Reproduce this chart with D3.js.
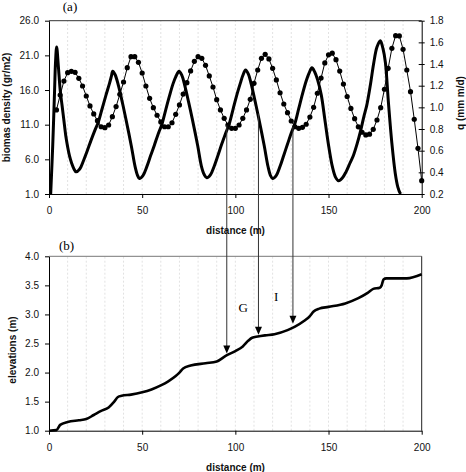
<!DOCTYPE html>
<html>
<head>
<meta charset="utf-8">
<script src="https://cdn.jsdelivr.net/npm/d3@7"></script>
<style>
  body { margin: 0; background: #fff; }
  svg { display: block; font-family: "Liberation Sans", Arial, sans-serif; }
</style>
</head>
<body>
<script>
// biomass density along the slope (solid line, left axis of panel a)
var bioDist = [0.9,2,3,3.5,4.1,5,6,7,8,9,10,11,12.2,13.4,14.5,
  16.5,18.5,20.5,22.5,24.5,26.5,28.5,30.5,32.5,33.5,34.2,
  35.5,37.2,39.2,41.2,44.2,46.2,47.5,48.5,
  50.5,52.5,54.5,56.5,58.5,60.5,62.5,64.5,66.5,68,69.8,
  71.3,72.8,74.8,76.8,79.8,81.8,83.3,84.7,
  86.7,88.7,90.7,92.7,94.7,96.7,98.7,100.7,102.7,104,105.5,
  107,108.5,110.5,112.5,115.5,117.5,118.8,120,
  122,124,126,128,130,132,134,136,138,139.5,141.1,
  142.6,144.1,146.1,148.1,150.1,152.1,153.8,155.4,
  157.4,159.4,161.4,163.4,165.4,167,169,170.6,172.5,174.2,176,177.8,
  179.2,180.5,182.2,184,185.8,187.2,188.5,189];
var bioVal = [1.0,8,16,20,22.2,19.5,16,13.8,11.6,9.4,7.8,6.5,5.4,4.6,4.2,
  4.6,5.8,7.2,8.7,10.1,11.4,13.3,15.2,17.0,18.0,18.7,
  18.2,16.7,14.4,11.9,7.9,4.95,3.7,3.25,
  3.7,4.95,6.5,8.0,9.6,11.0,13.0,15.0,16.85,17.9,18.7,
  18.1,16.7,14.4,11.95,7.95,5.0,3.8,3.35,
  3.8,5.05,6.6,8.2,9.7,11.1,13.15,15.2,17.0,18.1,18.9,
  18.3,16.9,14.5,12.0,7.95,5.0,3.7,3.25,
  3.7,5.0,6.6,8.2,9.8,11.2,13.3,15.4,17.3,18.4,19.2,
  18.6,17.5,15.3,11.6,7.9,4.9,3.4,2.9,
  3.3,4.2,5.4,6.6,8.3,9.9,12.2,13.9,16.8,19.8,22.2,23.1,
  22.0,20.0,14.0,8.3,4.0,2.0,1.1,1.0];

// infiltration q (dotted line with markers, right axis of panel a)
var qDist = [4,6,8,10,12,14,16,18,20,22,24,26,28,30,32,34,36,38,40,42,44,46,48,50,
  52,54,56,58,60,62,64,66,68,70,72,74,76,78,80,82,84,86,88,90,92,94,96,98,100,
  102,104,106,108,110,112,114,116,118,120,122,124,126,128,130,132,134,136,138,140,
  142,144,146,148,150,152,154,156,158,160,162,164,166,168,170,172,174,176,178,180,
  182,184,186,188,190,192,194,196,198,200];
var qVal = [0.976,1.114,1.243,1.320,1.333,1.323,1.268,1.197,1.105,1.013,0.939,0.877,0.821,0.812,0.837,0.914,1.007,1.120,1.234,1.366,1.468,1.468,1.416,1.317,
  1.197,1.083,0.997,0.927,0.865,0.821,0.821,0.858,0.936,1.022,1.123,1.228,1.336,1.425,1.468,1.453,1.388,1.290,1.188,1.071,0.976,0.899,0.837,0.806,0.806,
  0.837,0.899,0.976,1.074,1.222,1.345,1.453,1.490,1.447,1.360,1.253,1.135,1.031,0.951,0.874,0.821,0.806,0.816,0.844,0.910,
  1.000,1.130,1.270,1.410,1.485,1.500,1.440,1.335,1.215,1.100,0.990,0.895,0.820,0.770,0.745,0.752,0.797,0.883,0.997,1.167,
  1.360,1.545,1.662,1.659,1.536,1.345,1.145,0.890,0.622,0.323];

// elevation profile (panel b)
var elevDist = [0,4,6,10,16,20,24,28,32,35,37,39,44,50,55,60,64,68,70,72,76,84,90,95,100,104,107,109,112,116,121,
  128,132,137,140,142,145,150,159,166,171,174,177.5,178.5,179.5,181,184,192,200];
var elevVal = [1.0,1.01,1.10,1.15,1.18,1.20,1.27,1.34,1.40,1.50,1.58,1.60,1.62,1.66,1.71,1.78,1.85,1.94,2.00,2.07,2.12,2.16,2.19,2.29,2.37,2.45,2.55,2.60,2.62,2.64,2.66,
  2.73,2.79,2.89,2.97,3.05,3.10,3.13,3.19,3.28,3.37,3.44,3.46,3.50,3.60,3.62,3.62,3.62,3.69];

// arrows linking panel a to panel b
var arrowDist = [95.4, 112.4, 130.9];
var arrowFrom = [10.9, 12.6, 10.7];   // biomass value where the arrow leaves
var arrowTo = [2.33, 2.65, 2.84];     // elevation value at the arrow tip
var markLabels = ["G", "I"];
var markDist = [104.2, 121.9];
var markElev = [3.04, 3.23];

// axis ticks
var distTicks = [0, 50, 100, 150, 200];
var gridTicks = [10,20,30,40,50,60,70,80,90,100,110,120,130,140,150,160,170,180,190];
var bioTicks = [1, 6, 11, 16, 21, 26];
var qTicks = [0.2, 0.4, 0.6, 0.8, 1.0, 1.2, 1.4, 1.6, 1.8];
var elevTicks = [1.0, 1.5, 2.0, 2.5, 3.0, 3.5, 4.0];

var width = 466, height = 472;

var svg = d3.select("body").append("svg")
    .attr("width", width)
    .attr("height", height);

// shared x scale, two stacked panels
var x = d3.scaleLinear().domain([0, 200]).range([49, 421.7]);
var yBio = d3.scaleLinear().domain([1, 26]).range([194, 20.7]);
var yQ = d3.scaleLinear().domain([0.2, 1.8]).range([194, 20.7]);
var yElev = d3.scaleLinear().domain([1, 4]).range([430.7, 256.3]);

svg.append("defs").append("clipPath").attr("id", "clipTop")
  .append("rect").attr("x", 49).attr("y", 20.7).attr("width", 372.7).attr("height", 173.3);

// light dashed vertical grid in both panels
function grid(yScale) {
  svg.append("g")
    .selectAll("line")
    .data(gridTicks)
    .enter().append("line")
    .attr("x1", function(d){ return x(d); })
    .attr("x2", function(d){ return x(d); })
    .attr("y1", yScale.range()[0])
    .attr("y2", yScale.range()[1])
    .attr("stroke", "#e2e2e2")
    .attr("stroke-width", 1)
    .attr("stroke-dasharray", "2,2");
}
grid(yBio);
grid(yElev);

// style an axis group the same way as excel-ish output
function styleAxis(g) {
  g.select(".domain").attr("stroke", "#000");
  g.selectAll(".tick line").attr("stroke", "#000");
  g.selectAll("text").attr("font-size", "10px").attr("fill", "#111");
}

// ---- panel (a)
svg.append("line")
  .attr("x1", 49).attr("x2", 421.7).attr("y1", 20.7).attr("y2", 20.7)
  .attr("stroke", "#333");

svg.append("g")
  .attr("transform", "translate(0,194)")
  .call(d3.axisBottom(x).tickValues(distTicks).tickSize(4).tickSizeOuter(0).tickPadding(9))
  .call(styleAxis);

svg.append("g")
  .attr("transform", "translate(49,0)")
  .call(d3.axisLeft(yBio).tickValues(bioTicks).tickSize(4).tickSizeOuter(0).tickPadding(6).tickFormat(d3.format(".1f")))
  .call(styleAxis);

var rightAxis = svg.append("g")
  .attr("transform", "translate(421.7,0)")
  .call(d3.axisRight(yQ).tickValues(qTicks).tickSize(3).tickSizeOuter(0).tickPadding(5).tickFormat(d3.format(".1f")))
  .call(styleAxis);
rightAxis.selectAll(".tick line").attr("x1", -3);

var bioLine = d3.line()
  .x(function(d){ return x(d[0]); })
  .y(function(d){ return yBio(d[1]); })
  .curve(d3.curveCatmullRom.alpha(0.5));

svg.append("path")
  .datum(d3.zip(bioDist, bioVal))
  .attr("clip-path", "url(#clipTop)")
  .attr("fill", "none")
  .attr("stroke", "#000")
  .attr("stroke-width", 3)
  .attr("stroke-linejoin", "round")
  .attr("d", bioLine);

var qData = d3.zip(qDist, qVal);
var qLine = d3.line()
  .x(function(d){ return x(d[0]); })
  .y(function(d){ return yQ(d[1]); });

svg.append("path")
  .datum(qData)
  .attr("fill", "none")
  .attr("stroke", "#000")
  .attr("stroke-width", 1)
  .attr("d", qLine);

svg.append("g")
  .selectAll("circle")
  .data(qData)
  .enter().append("circle")
  .attr("cx", function(d){ return x(d[0]); })
  .attr("cy", function(d){ return yQ(d[1]); })
  .attr("r", 2.6)
  .attr("fill", "#000");

// ---- panel (b)
svg.append("line")
  .attr("x1", 49).attr("x2", 421.7).attr("y1", 256.3).attr("y2", 256.3)
  .attr("stroke", "#777");
svg.append("line")
  .attr("x1", 421.7).attr("x2", 421.7).attr("y1", 256.3).attr("y2", 430.7)
  .attr("stroke", "#222");

svg.append("g")
  .attr("transform", "translate(0,430.7)")
  .call(d3.axisBottom(x).tickValues(distTicks).tickSize(4).tickSizeOuter(0).tickPadding(9))
  .call(styleAxis);

svg.append("g")
  .attr("transform", "translate(49,0)")
  .call(d3.axisLeft(yElev).tickValues(elevTicks).tickSize(4).tickSizeOuter(0).tickPadding(6).tickFormat(d3.format(".1f")))
  .call(styleAxis);

var elevLine = d3.line()
  .x(function(d){ return x(d[0]); })
  .y(function(d){ return yElev(d[1]); })
  .curve(d3.curveMonotoneX);

svg.append("path")
  .datum(d3.zip(elevDist, elevVal))
  .attr("fill", "none")
  .attr("stroke", "#000")
  .attr("stroke-width", 2.6)
  .attr("stroke-linejoin", "round")
  .attr("d", elevLine);

// arrows from the crossings in (a) down to the profile in (b)
var arrows = svg.append("g");
arrowDist.forEach(function(d, i) {
  var ax = x(d), tip = yElev(arrowTo[i]);
  arrows.append("line")
    .attr("x1", ax).attr("x2", ax)
    .attr("y1", yBio(arrowFrom[i])).attr("y2", tip - 6)
    .attr("stroke", "#333").attr("stroke-width", 1);
  arrows.append("path")
    .attr("d", "M" + (ax - 3.5) + "," + (tip - 8) + "L" + (ax + 3.5) + "," + (tip - 8) + "L" + ax + "," + tip + "Z")
    .attr("fill", "#000");
});

svg.append("g")
  .selectAll("text")
  .data(markLabels)
  .enter().append("text")
  .attr("x", function(d, i){ return x(markDist[i]); })
  .attr("y", function(d, i){ return yElev(markElev[i]); })
  .attr("text-anchor", "middle")
  .attr("font-family", "'Liberation Serif', 'Times New Roman', serif")
  .attr("font-size", "13px")
  .text(function(d){ return d; });

// panel letters
svg.append("text").attr("x", 70).attr("y", 11).attr("text-anchor", "middle")
  .attr("font-family", "'Liberation Serif', 'Times New Roman', serif").attr("font-size", "13px").text("(a)");
svg.append("text").attr("x", 66.5).attr("y", 249.5).attr("text-anchor", "middle")
  .attr("font-family", "'Liberation Serif', 'Times New Roman', serif").attr("font-size", "13px").text("(b)");

// axis titles
function title(txt, tx, ty, rot) {
  svg.append("text")
    .attr("transform", "translate(" + tx + "," + ty + ")" + (rot ? " rotate(-90)" : ""))
    .attr("text-anchor", "middle")
    .attr("font-size", "10px")
    .attr("font-weight", "bold")
    .attr("fill", "#111")
    .text(txt);
}
title("distance (m)", 235.5, 234, false);
title("distance (m)", 235.5, 470.5, false);
title("biomas density (gr/m2)", 10, 107.5, true);
title("q (mm m/d)", 464, 103, true);
title("elevations (m)", 15.5, 350, true);
</script>
</body>
</html>
